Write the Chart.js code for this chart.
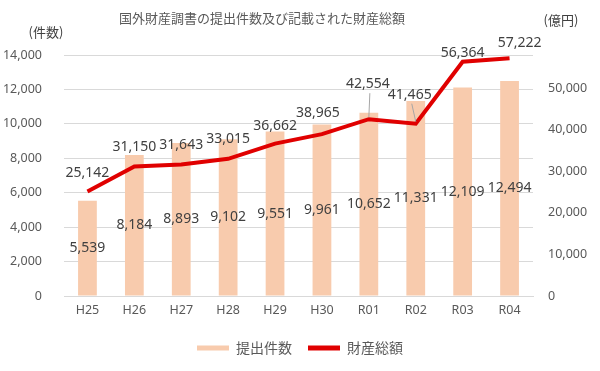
<!DOCTYPE html>
<html>
<head>
<meta charset="utf-8">
<script src="https://cdn.jsdelivr.net/npm/chart.js@4"></script>
<style>
	html, body { margin: 0; padding: 0; background: #fff; }
	#wrap { width: 600px; height: 371px; }
</style>
</head>
<body>
<div id="wrap"><canvas id="chart" width="600" height="371"></canvas></div>
<script>
const years = ["H25", "H26", "H27", "H28", "H29", "H30", "R01", "R02", "R03", "R04"];
// 提出件数 (件)
const filings = [5539, 8184, 8893, 9102, 9551, 9961, 10652, 11331, 12109, 12494];
// 財産総額 (億円)
const totals = [25142, 31150, 31643, 33015, 36662, 38965, 42554, 41465, 56364, 57222];
// right axis tick labels (axis itself runs to 58,000)
const rightTicks = [0, 10000, 20000, 30000, 40000, 50000];

// label nudges for the line values (px), like the hand-moved labels in the original
const lineLabelDx = [0, 0, 0, 0, 0, -4, -1, -6, 0, 10];
const lineLabelDy = [-19, -20, -20, -20, -18, -21, -35, -29, -9, -15];

const textColor = "#595959";
const labelColor = "#404040";
const gridColor = "#d9d9d9";

function fmt(n) {
	return n.toLocaleString("en-US");
}

const valueLabels = {
	id: "valueLabels",
	afterDatasetsDraw(chart) {
		let ctx = chart.ctx;
		ctx.save();
		ctx.font = '14px "Noto Sans"';
		ctx.fillStyle = labelColor;
		ctx.textAlign = "center";
		ctx.textBaseline = "middle";

		// bar values in the middle of the bars
		chart.getDatasetMeta(0).data.forEach((bar, i) => {
			ctx.fillText(fmt(filings[i]), bar.x, (bar.y + bar.base) / 2);
		});

		// line values above the points
		chart.getDatasetMeta(1).data.forEach((pt, i) => {
			let lx = pt.x + lineLabelDx[i];
			let ly = pt.y + lineLabelDy[i];
			// leader line when the label was pulled away
			if (lineLabelDy[i] < -25) {
				ctx.strokeStyle = "#a6a6a6";
				ctx.lineWidth = 1;
				ctx.beginPath();
				ctx.moveTo(lx + 2, ly + 9);
				ctx.lineTo(pt.x, pt.y - 2);
				ctx.stroke();
			}
			ctx.fillText(fmt(totals[i]), lx, ly);
		});
		ctx.restore();
	}
};

const headerText = {
	id: "headerText",
	afterDraw(chart) {
		let ctx = chart.ctx;
		ctx.save();
		ctx.fillStyle = textColor;
		ctx.textBaseline = "middle";
		ctx.textAlign = "center";
		ctx.font = '13px "Noto Sans CJK JP"';
		ctx.fillText("国外財産調書の提出件数及び記載された財産総額", 262, 18);
		ctx.fillStyle = "#404040";
		ctx.fillText("(件数)", 46, 32);
		ctx.fillText("(億円)", 561, 20);
		ctx.restore();
	}
};

new Chart(
	document.getElementById("chart"),
	{
		data: {
			labels: years,
			datasets: [
				{
					type: "bar",
					label: "提出件数",
					data: filings,
					backgroundColor: "#f8cbad",
					barPercentage: 0.4,
					categoryPercentage: 1.0,
					yAxisID: "y",
					order: 2
				},
				{
					type: "line",
					label: "財産総額",
					data: totals,
					borderColor: "#e00000",
					backgroundColor: "#e00000",
					borderWidth: 4,
					pointRadius: 0,
					tension: 0,
					yAxisID: "y1",
					order: 1
				}
			]
		},
		options: {
			responsive: false,
			animation: false,
			layout: { padding: { top: 55, bottom: 6, left: 0, right: 0 } },
			scales: {
				x: {
					grid: { display: false, drawTicks: false },
					border: { color: gridColor },
					ticks: { color: textColor, font: { family: "Noto Sans", size: 12.5 }, padding: 7 }
				},
				y: {
					position: "left",
					min: 0,
					max: 14000,
					afterFit: (scale) => { scale.width = 64; },
					grid: { color: gridColor, drawTicks: false },
					border: { display: false },
					ticks: {
						stepSize: 2000,
						color: textColor,
						padding: 22,
						font: { family: "Noto Sans", size: 12.5 },
						callback: (v) => fmt(v)
					}
				},
				y1: {
					position: "right",
					min: 0,
					max: 58000,
					afterFit: (scale) => { scale.width = 67; },
					// the library splits 0..58,000 evenly; put the round steps back
					afterBuildTicks: (scale) => {
						scale.ticks = rightTicks.map(v => ({ value: v }));
					},
					grid: { display: false, drawTicks: false },
					border: { display: false },
					ticks: {
						autoSkip: false,
						color: textColor,
						padding: 15,
						font: { family: "Noto Sans", size: 12.5 },
						callback: (v) => fmt(v)
					}
				}
			},
			plugins: {
				legend: {
					position: "bottom",
					labels: {
						color: textColor,
						font: { family: "Noto Sans CJK JP", size: 14 },
						boxWidth: 32,
						boxHeight: 5,
						padding: 16,
						generateLabels: (chart) => chart.data.datasets.map((ds, i) => ({
							text: ds.label,
							fillStyle: ds.type === "bar" ? ds.backgroundColor : ds.borderColor,
							strokeStyle: ds.type === "bar" ? ds.backgroundColor : ds.borderColor,
							lineWidth: 0,
							fontColor: textColor,
							datasetIndex: i
						}))
					}
				},
				tooltip: { enabled: false }
			}
		},
		plugins: [valueLabels, headerText]
	}
);
</script>
</body>
</html>
